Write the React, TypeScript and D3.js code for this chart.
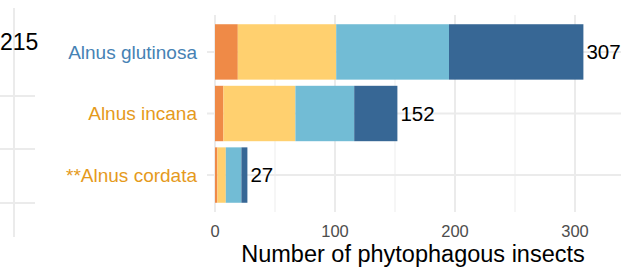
import { useEffect, useRef } from "react";
import * as d3 from "d3";

const species = ["Alnus glutinosa", "Alnus incana", "**Alnus cordata"];
const speciesColors = ["#4682B4", "#E59A1C", "#E59A1C"];
const groups = ["g1", "g2", "g3", "g4"];
const groupColors = ["#EF8A47", "#FFD06F", "#72BCD5", "#376795"];
const g1 = [19, 7, 2];
const g2 = [82, 60, 7];
const g3 = [94, 49, 13];
const g4 = [112, 36, 5];
const xTicks = [0, 100, 200, 300];
const xMinor = [50, 150, 250];
const sideTotal = "215";

export default function App() {
  const ref = useRef<SVGSVGElement>(null);

  useEffect(() => {
    const W = 626, H = 274;
    const svg = d3.select(ref.current);
    svg.selectAll("*").remove();
    svg.attr("width", W).attr("height", H)
      .style("font-family", "'Liberation Sans', Arial, sans-serif");

    const panel = { left: 207, right: 621, top: 15, bottom: 212 };

    const x = d3.scaleLinear().domain([0, 300]).range([215, 575]);
    const y = d3.scaleBand().domain(species)
      .range([panel.top, panel.bottom]).paddingInner(0.1).paddingOuter(0.15);

    // cropped neighbour panel on the left
    const side = svg.append("g");
    side.append("line").attr("x1", 14).attr("x2", 14).attr("y1", 8).attr("y2", 237)
      .attr("stroke", "#EBEBEB").attr("stroke-width", 2);
    [96, 149, 203].forEach(yy => {
      side.append("line").attr("x1", 0).attr("x2", 35).attr("y1", yy).attr("y2", yy)
        .attr("stroke", "#EBEBEB").attr("stroke-width", 2);
    });
    side.append("text").attr("x", 0).attr("y", 50).attr("font-size", 23)
      .attr("fill", "#000").text(sideTotal);

    // grid
    const grid = svg.append("g");
    xMinor.forEach(v => {
      grid.append("line").attr("x1", x(v)).attr("x2", x(v))
        .attr("y1", panel.top).attr("y2", panel.bottom)
        .attr("stroke", "#F0F0F0").attr("stroke-width", 1.2);
    });
    xTicks.forEach(v => {
      grid.append("line").attr("x1", x(v)).attr("x2", x(v))
        .attr("y1", panel.top).attr("y2", panel.bottom)
        .attr("stroke", "#EBEBEB").attr("stroke-width", 2);
    });
    species.forEach(s => {
      const cy = y(s)! + y.bandwidth() / 2;
      grid.append("line").attr("x1", panel.left).attr("x2", panel.right)
        .attr("y1", cy).attr("y2", cy)
        .attr("stroke", "#EBEBEB").attr("stroke-width", 2);
    });

    const rows = species.map((s, i) => ({ species: s, g1: g1[i], g2: g2[i], g3: g3[i], g4: g4[i] }));
    const stacked = d3.stack<any>().keys(groups)(rows);

    stacked.forEach((layer, k) => {
      svg.append("g").selectAll("rect")
        .data(layer)
        .enter()
        .append("rect")
        .attr("x", d => x(d[0]))
        .attr("width", d => x(d[1]) - x(d[0]))
        .attr("y", d => y(d.data.species)!)
        .attr("height", y.bandwidth())
        .attr("fill", groupColors[k]);
    });

    // totals
    rows.forEach(r => {
      const total = r.g1 + r.g2 + r.g3 + r.g4;
      svg.append("text")
        .attr("x", x(total) + 3)
        .attr("y", y(r.species)! + y.bandwidth() / 2)
        .attr("dy", "0.36em")
        .attr("font-size", 20.5)
        .attr("fill", "#000")
        .text(total);
    });

    // y labels
    species.forEach((s, i) => {
      svg.append("text")
        .attr("x", 197)
        .attr("y", y(s)! + y.bandwidth() / 2)
        .attr("dy", "0.36em")
        .attr("text-anchor", "end")
        .attr("font-size", 19)
        .attr("fill", speciesColors[i])
        .text(s);
    });

    // x tick labels
    xTicks.forEach(v => {
      svg.append("text")
        .attr("x", x(v))
        .attr("y", 237)
        .attr("text-anchor", "middle")
        .attr("font-size", 16.5)
        .attr("fill", "#4D4D4D")
        .text(v);
    });

    svg.append("text")
      .attr("x", 413)
      .attr("y", 262)
      .attr("text-anchor", "middle")
      .attr("font-size", 23.5)
      .attr("fill", "#000")
      .text("Number of phytophagous insects");
  }, []);

  return <svg ref={ref} style={{ position: "absolute", left: 0, top: 0 }}></svg>;
}
